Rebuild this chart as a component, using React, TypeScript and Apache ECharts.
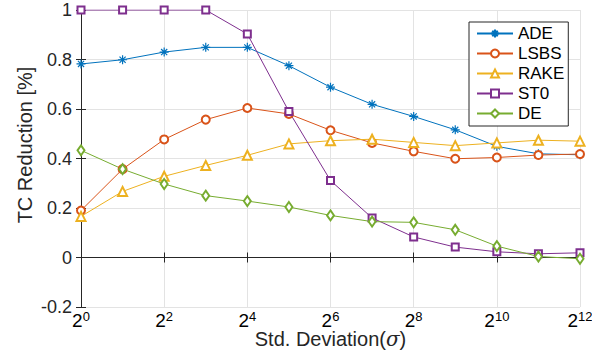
import React, { useEffect, useRef } from "react";
import * as echarts from "echarts";

const exponents = [0, 1, 2, 3, 4, 5, 6, 7, 8, 9, 10, 11, 12];
const seriesNames = ["ADE", "LSBS", "RAKE", "ST0", "DE"];
const ade = [0.782, 0.799, 0.83, 0.849, 0.849, 0.775, 0.688, 0.619, 0.57, 0.516, 0.449, 0.419, 0.415];
const lsbs = [0.19, 0.357, 0.477, 0.557, 0.604, 0.58, 0.514, 0.463, 0.429, 0.399, 0.404, 0.414, 0.418];
const rake = [0.166, 0.267, 0.328, 0.372, 0.413, 0.459, 0.472, 0.478, 0.465, 0.452, 0.463, 0.474, 0.47];
const st0 = [1.0, 1.0, 1.0, 1.0, 0.903, 0.59, 0.311, 0.16, 0.083, 0.042, 0.023, 0.015, 0.019];
const de = [0.433, 0.357, 0.297, 0.25, 0.228, 0.204, 0.17, 0.145, 0.142, 0.112, 0.046, 0.004, -0.005];
const yTicks = [-0.2, 0, 0.2, 0.4, 0.6, 0.8, 1];

const colors = ["#0072BD", "#D95319", "#EDB120", "#7E2F8E", "#77AC30"];
const symbols = [
  "path://M5,0 L5,10 M0,5 L10,5 M1.6,1.6 L8.4,8.4 M1.6,8.4 L8.4,1.6",
  "emptyCircle",
  "emptyTriangle",
  "emptyRect",
  "emptyDiamond",
];
const symbolSizes: any[] = [9, 8, 9, 7, [7, 10]];
const allData = [ade, lsbs, rake, st0, de];

const FONT = "'Liberation Sans', Arial, Helvetica, sans-serif";
const AXIS = "#262626";

export default function App() {
  const ref = useRef<HTMLDivElement>(null);
  useEffect(() => {
    if (!ref.current) return;
    const chart = echarts.init(ref.current, undefined, { renderer: "svg" });
    const series = seriesNames.map((name, i) => ({
      name,
      type: "line",
      data: exponents.map((x, k) => [x, allData[i][k]]),
      symbol: symbols[i],
      symbolSize: symbolSizes[i],
      showAllSymbol: true,
      lineStyle: { color: colors[i], width: 1 },
      itemStyle: { color: colors[i], borderColor: colors[i], borderWidth: i === 0 ? 1.2 : 1 },
      emphasis: { disabled: true },
      z: 3,
    }));
    chart.setOption({
      animation: false,
      textStyle: { fontFamily: FONT, color: AXIS },
      grid: { left: 81, top: 10, right: 12, bottom: 45, outerBoundsMode: "none", containLabel: false },
      legend: {
        data: seriesNames,
        orient: "vertical",
        left: 469,
        top: 22,
        backgroundColor: "#fff",
        borderColor: AXIS,
        borderWidth: 1,
        borderRadius: 0,
        padding: [3, 4, 4, 7],
        itemGap: 3,
        itemWidth: 36,
        itemHeight: 10,
        textStyle: { fontSize: 17, lineHeight: 16, color: "#000", fontFamily: FONT },
      },
      xAxis: [
        {
          type: "value",
          min: 0,
          max: 12,
          interval: 2,
          name: "Std. Deviation({it|σ})",
          nameLocation: "middle",
          nameGap: 22,
          nameMoveOverlap: false,
          nameTextStyle: {
            fontSize: 20,
            color: AXIS,
            fontFamily: FONT,
            rich: { it: { fontSize: 20, fontStyle: "italic", fontFamily: "'DejaVu Serif', serif", color: AXIS } },
          },
          axisLine: { show: true, lineStyle: { color: AXIS, width: 1 } },
          axisTick: { show: true, inside: true, length: 5, lineStyle: { color: AXIS } },
          splitLine: { show: true, lineStyle: { color: "#e3e3e3", width: 1 } },
          axisLabel: {
            margin: 3,
            formatter: (v: number) => `{b|2}{s|${v}}`,
            rich: {
              b: { fontSize: 19, lineHeight: 20, verticalAlign: "bottom", color: "#000", fontFamily: FONT },
              s: { fontSize: 13, lineHeight: 13, verticalAlign: "top", color: "#000", fontFamily: FONT },
            },
          },
        },
        {
          type: "value",
          position: "top",
          min: 0,
          max: 12,
          interval: 2,
          axisLine: { show: true, lineStyle: { color: AXIS, width: 1 } },
          axisTick: { show: true, inside: true, length: 5, lineStyle: { color: AXIS } },
          axisLabel: { show: false },
          splitLine: { show: false },
        },
      ],
      yAxis: [
        {
          type: "value",
          min: yTicks[0],
          max: yTicks[yTicks.length - 1],
          interval: 0.2,
          name: "TC Reduction [%]",
          nameLocation: "middle",
          nameGap: 46,
          nameMoveOverlap: false,
          nameTextStyle: { fontSize: 20, color: AXIS, fontFamily: FONT, padding: [0, 0, 0, 27] },
          axisLine: { show: true, lineStyle: { color: AXIS, width: 1 } },
          axisTick: { show: true, inside: true, length: 5, lineStyle: { color: AXIS } },
          splitLine: { show: true, lineStyle: { color: "#e3e3e3", width: 1 } },
          axisLabel: {
            margin: 9,
            fontSize: 18,
            color: AXIS,
            fontFamily: FONT,
            formatter: (v: number) => String(Math.round(v * 10) / 10),
          },
        },
        {
          type: "value",
          position: "right",
          min: yTicks[0],
          max: yTicks[yTicks.length - 1],
          interval: 0.2,
          axisLine: { show: true, lineStyle: { color: AXIS, width: 1 } },
          axisTick: { show: true, inside: true, length: 5, lineStyle: { color: AXIS } },
          axisLabel: { show: false },
          splitLine: { show: false },
        },
      ],
      series,
    });
    return () => chart.dispose();
  }, []);
  return <div ref={ref} style={{ width: 592, height: 352, position: "absolute", left: 0, top: 0, background: "#fff" }} />;
}
